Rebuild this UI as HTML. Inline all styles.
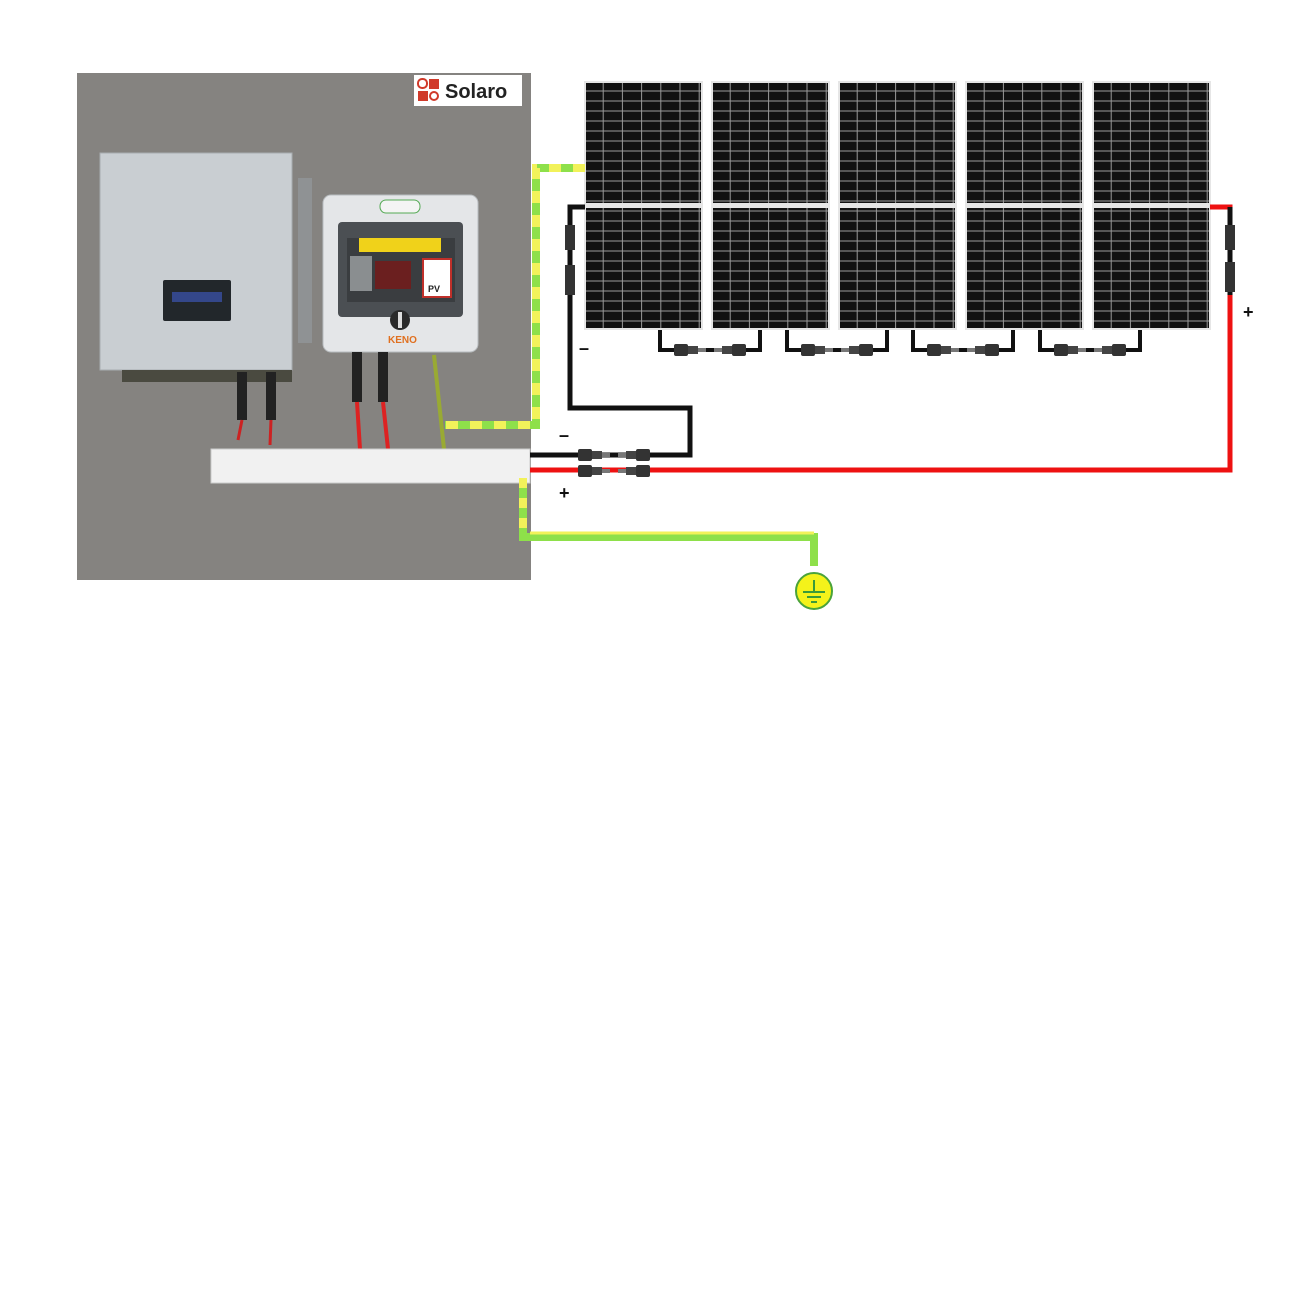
<!DOCTYPE html>
<html><head><meta charset="utf-8"><style>html,body{margin:0;padding:0;background:#fff}svg{display:block}</style></head>
<body>
<svg width="1300" height="1300" viewBox="0 0 1300 1300" xmlns="http://www.w3.org/2000/svg" font-family="Liberation Sans, sans-serif">
<defs>
<pattern id="cells" x="0" y="0" width="19.2" height="10" patternUnits="userSpaceOnUse">
<rect width="19.2" height="10" fill="#9a9a9a"/>
<rect x="0.5" y="0.5" width="18.2" height="9" fill="#111"/>
</pattern>
<g id="panel">
<rect x="0" y="0" width="119" height="249" fill="#e6e6e6"/>
<rect x="2" y="2" width="115" height="120" fill="url(#cells)"/>
<rect x="2" y="127" width="115" height="120" fill="url(#cells)"/>
</g>
<g id="conn">
<rect x="0" y="-6" width="14" height="12" rx="2" fill="#333"/>
<rect x="14" y="-4" width="10" height="8" fill="#444"/>
<rect x="24" y="-2" width="8" height="4" fill="#777"/>
</g>
</defs>
<rect x="77" y="73" width="454" height="507" fill="#858380"/>
<rect x="414" y="75" width="108" height="31" fill="#fff"/>
<rect x="418" y="79" width="9" height="9" rx="4" fill="none" stroke="#d03a2a" stroke-width="2"/>
<rect x="429" y="79" width="10" height="10" fill="#d03a2a"/>
<rect x="418" y="91" width="10" height="10" fill="#d03a2a"/>
<circle cx="434" cy="96" r="4" fill="none" stroke="#d03a2a" stroke-width="2"/>
<text x="445" y="98" font-size="20" font-weight="bold" fill="#222">Solaro</text>
<rect x="298" y="178" width="14" height="165" fill="#8f9294"/>
<rect x="100" y="153" width="192" height="217" fill="#c9ced2" stroke="#a8acb0"/>
<rect x="163" y="280" width="68" height="41" rx="2" fill="#22272b"/>
<rect x="172" y="292" width="50" height="10" fill="#34478a"/>
<rect x="122" y="370" width="170" height="12" fill="#4a4a40"/>
<rect x="323" y="195" width="155" height="157" rx="8" fill="#e4e6e8" stroke="#b8bcbf"/>
<rect x="338" y="222" width="125" height="95" rx="4" fill="#4b4f53"/>
<rect x="347" y="238" width="108" height="64" fill="#3a3d40"/>
<rect x="359" y="238" width="82" height="14" fill="#f0d21a"/>
<rect x="350" y="256" width="22" height="35" fill="#8a8e90"/>
<rect x="375" y="261" width="36" height="28" fill="#6b1f1f"/>
<rect x="423" y="259" width="28" height="38" fill="#fff" stroke="#c0302a" stroke-width="2"/>
<text x="428" y="292" font-size="9" font-weight="bold" fill="#222">PV</text>
<circle cx="400" cy="320" r="10" fill="#2a2a2a"/><rect x="398" y="312" width="4" height="16" fill="#ddd"/>
<text x="388" y="343" font-size="10" font-weight="bold" fill="#e07020">KENO</text>
<rect x="380" y="200" width="40" height="13" rx="6" fill="#f4f4f4" stroke="#5a5"/>
<rect x="237" y="372" width="10" height="48" fill="#222"/><rect x="266" y="372" width="10" height="48" fill="#222"/>
<path d="M242 420 L238 440 M271 420 L270 445" stroke="#c22" stroke-width="3" fill="none"/>
<rect x="352" y="352" width="10" height="50" fill="#222"/><rect x="378" y="352" width="10" height="50" fill="#222"/>
<path d="M357 402 L360 449 M383 402 L388 449" stroke="#d22" stroke-width="4" fill="none"/>
<path d="M434 355 L444 449" stroke="#9a3" stroke-width="4" fill="none"/>
<rect x="211" y="449" width="319" height="34" fill="#f1f1f1" stroke="#ccc"/>
<use href="#panel" x="584" y="81"/>
<use href="#panel" x="711" y="81"/>
<use href="#panel" x="838" y="81"/>
<use href="#panel" x="965" y="81"/>
<use href="#panel" x="1092" y="81"/>
<path d="M585 168 L536 168 L536 425 L445 425" stroke="#8ee04a" stroke-width="8" fill="none"/>
<path d="M585 168 L536 168 L536 425 L445 425" stroke="#f2f25a" stroke-width="8" fill="none" stroke-dasharray="12 12"/>
<path d="M523 478 L523 537 L814 537 L814 566" stroke="#8ee04a" stroke-width="8" fill="none"/>
<path d="M523 478 L523 537" stroke="#f2f25a" stroke-width="8" fill="none" stroke-dasharray="10 10"/>
<path d="M530 533 L814 533" stroke="#f2f25a" stroke-width="3" fill="none"/>
<circle cx="814" cy="591" r="18" fill="#f4f21a" stroke="#4aa33a" stroke-width="2"/>
<path d="M814 580 L814 592 M803 592 L825 592 M807 597 L821 597 M811 602 L817 602" stroke="#3a9a3a" stroke-width="2"/>
<path d="M585 207 L570 207 L570 408 L690 408 L690 455 L530 455" stroke="#111" stroke-width="5" fill="none"/>
<rect x="565" y="225" width="10" height="25" fill="#333"/><rect x="565" y="265" width="10" height="30" fill="#333"/>
<path d="M1210 207 L1230 207 L1230 470 L530 470" stroke="#ee1111" stroke-width="5" fill="none"/>
<path d="M1230 207 L1230 295" stroke="#111" stroke-width="5"/>
<rect x="1225" y="225" width="10" height="25" fill="#333"/><rect x="1225" y="262" width="10" height="30" fill="#333"/>
<use href="#conn" x="578" y="455"/><use href="#conn" transform="translate(650 455) scale(-1 1)"/>
<use href="#conn" x="578" y="471"/><use href="#conn" transform="translate(650 471) scale(-1 1)"/>
<g stroke="#111" stroke-width="4" fill="none">
<path d="M660 330 L660 350 L760 350 L760 330"/>
<path d="M787 330 L787 350 L887 350 L887 330"/>
<path d="M913 330 L913 350 L1013 350 L1013 330"/>
<path d="M1040 330 L1040 350 L1140 350 L1140 330"/>
</g>
<use href="#conn" x="674" y="350"/><use href="#conn" transform="translate(746 350) scale(-1 1)"/>
<use href="#conn" x="801" y="350"/><use href="#conn" transform="translate(873 350) scale(-1 1)"/>
<use href="#conn" x="927" y="350"/><use href="#conn" transform="translate(999 350) scale(-1 1)"/>
<use href="#conn" x="1054" y="350"/><use href="#conn" transform="translate(1126 350) scale(-1 1)"/>
<g font-size="18" font-weight="bold" fill="#111">
<text x="579" y="354">–</text>
<text x="559" y="441">–</text>
<text x="559" y="499">+</text>
<text x="1243" y="318">+</text>
</g>
</svg>
</body></html>
